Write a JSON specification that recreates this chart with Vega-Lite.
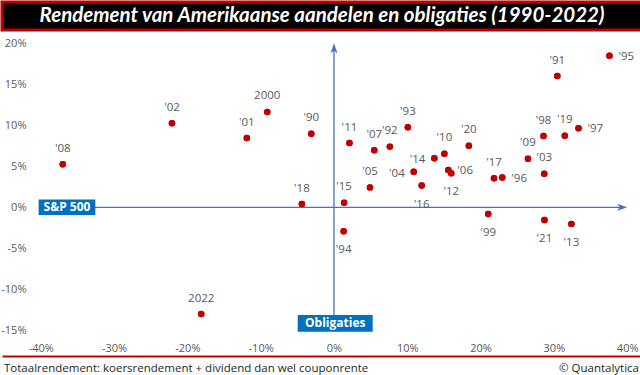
{
  "$schema": "https://vega.github.io/schema/vega-lite/v6.json",
  "padding": 0,
  "spacing": 0,
  "bounds": "flush",
  "background": "#ffffff",
  "config": {
    "view": {"stroke": null},
    "font": "Open Sans",
    "axis": {"labelFont": "Open Sans", "labelFontSize": 11, "labelColor": "#595959", "grid": false, "domain": false, "ticks": false}
  },
  "datasets": {
    "rendement": [
      {"jaar": "'90", "aandelen": -3.10, "obligaties": 8.96},
      {"jaar": "'91", "aandelen": 30.47, "obligaties": 16.00},
      {"jaar": "'92", "aandelen": 7.62, "obligaties": 7.40},
      {"jaar": "'93", "aandelen": 10.08, "obligaties": 9.75},
      {"jaar": "'94", "aandelen": 1.32, "obligaties": -2.92},
      {"jaar": "'95", "aandelen": 37.58, "obligaties": 18.47},
      {"jaar": "'96", "aandelen": 22.96, "obligaties": 3.63},
      {"jaar": "'97", "aandelen": 33.36, "obligaties": 9.65},
      {"jaar": "'98", "aandelen": 28.58, "obligaties": 8.69},
      {"jaar": "'99", "aandelen": 21.04, "obligaties": -0.82},
      {"jaar": "2000", "aandelen": -9.10, "obligaties": 11.63},
      {"jaar": "'01", "aandelen": -11.89, "obligaties": 8.44},
      {"jaar": "'02", "aandelen": -22.10, "obligaties": 10.26},
      {"jaar": "'03", "aandelen": 28.68, "obligaties": 4.10},
      {"jaar": "'04", "aandelen": 10.88, "obligaties": 4.34},
      {"jaar": "'05", "aandelen": 4.91, "obligaties": 2.43},
      {"jaar": "'06", "aandelen": 15.6, "obligaties": 4.55},
      {"jaar": "'07", "aandelen": 5.49, "obligaties": 6.97},
      {"jaar": "'08", "aandelen": -37.0, "obligaties": 5.24},
      {"jaar": "'09", "aandelen": 26.46, "obligaties": 5.93},
      {"jaar": "'10", "aandelen": 15.06, "obligaties": 6.54},
      {"jaar": "'11", "aandelen": 2.11, "obligaties": 7.84},
      {"jaar": "'12", "aandelen": 16.0, "obligaties": 4.15},
      {"jaar": "'13", "aandelen": 32.39, "obligaties": -2.02},
      {"jaar": "'14", "aandelen": 13.69, "obligaties": 5.97},
      {"jaar": "'15", "aandelen": 1.38, "obligaties": 0.55},
      {"jaar": "'16", "aandelen": 11.96, "obligaties": 2.65},
      {"jaar": "'17", "aandelen": 21.83, "obligaties": 3.54},
      {"jaar": "'18", "aandelen": -4.38, "obligaties": 0.4},
      {"jaar": "'19", "aandelen": 31.49, "obligaties": 8.72},
      {"jaar": "'20", "aandelen": 18.40, "obligaties": 7.51},
      {"jaar": "'21", "aandelen": 28.71, "obligaties": -1.54},
      {"jaar": "2022", "aandelen": -18.11, "obligaties": -13.01}
    ]
  },
  "vconcat": [
    {
      "width": 640,
      "height": 28,
      "view": {"fill": "#000000", "stroke": "#C00000", "strokeWidth": 3},
      "data": {"values": [{"titel": "Rendement van Amerikaanse aandelen en obligaties (1990-2022)"}]},
      "mark": {"type": "text", "font": "Lato", "fontStyle": "italic", "fontWeight": "bold", "fontSize": 20.5, "color": "#ffffff", "baseline": "middle", "align": "center"},
      "encoding": {"text": {"field": "titel"}}
    },
    {
      "width": 640,
      "height": 326,
      "layer": [
        {
          "data": {"name": "rendement"},
          "mark": {"type": "circle", "size": 42, "color": "#C00000", "opacity": 1},
          "encoding": {
            "x": {"field": "aandelen", "type": "quantitative",
              "scale": {"domain": [-45.29, 42.02], "nice": false, "zero": false},
              "axis": {"values": [-40, -30, -20, -10, 0, 10, 20, 30, 40], "labelExpr": "datum.value + '%'", "offset": -7.3, "labelPadding": 0, "labelBaseline": "middle", "labelFlush": false, "tickSize": 0, "title": null}},
            "y": {"field": "obligaties", "type": "quantitative",
              "scale": {"domain": [-18.13, 21.62], "nice": false, "zero": false},
              "axis": {"values": [-15, -10, -5, 0, 5, 10, 15, 20], "labelExpr": "datum.value + '%'", "offset": -28, "labelPadding": 4, "labelFlush": false, "tickSize": 0, "title": null}}
          }
        },
        {
          "data": {"values": [{"as": "S&P 500"}]},
          "mark": {"type": "rule", "color": "#4472C4", "strokeWidth": 1.3},
          "encoding": {"x": {"datum": -38}, "x2": {"datum": 39.2}, "y": {"datum": 0}}
        },
        {
          "data": {"values": [{"as": "Obligaties"}]},
          "mark": {"type": "rule", "color": "#4472C4", "strokeWidth": 1.3},
          "encoding": {"x": {"datum": 0}, "y": {"datum": -14}, "y2": {"datum": 19.3}}
        },
        {
          "data": {"values": [{"as": "S&P 500"}]},
          "mark": {"type": "point", "shape": "M0,0L-2,-0.7L-1.5,0L-2,0.7Z", "size": 100, "filled": true, "color": "#4472C4", "opacity": 1},
          "encoding": {"x": {"datum": 40}, "y": {"datum": 0}}
        },
        {
          "data": {"values": [{"as": "Obligaties"}]},
          "mark": {"type": "point", "shape": "M0,0L-0.7,2L0,1.5L0.7,2Z", "size": 100, "filled": true, "color": "#4472C4", "opacity": 1},
          "encoding": {"x": {"datum": 0}, "y": {"datum": 20}}
        },
        {
          "data": {"values": [{"as": "S&P 500"}]},
          "mark": {"type": "rect", "color": "#0070C0"},
          "encoding": {"x": {"datum": -40.29}, "x2": {"datum": -32.56}, "y": {"datum": 0.95}, "y2": {"datum": -0.95}}
        },
        {
          "data": {"values": [{"as": "S&P 500"}]},
          "mark": {"type": "text", "color": "#ffffff", "fontWeight": "bold", "fontSize": 12, "baseline": "middle", "align": "center"},
          "encoding": {"x": {"datum": -36.42}, "y": {"datum": 0}, "text": {"field": "as"}}
        },
        {
          "data": {"values": [{"as": "Obligaties"}]},
          "mark": {"type": "rect", "color": "#0070C0"},
          "encoding": {"x": {"datum": -4.95}, "x2": {"datum": 5.28}, "y": {"datum": -13.13}, "y2": {"datum": -15.16}}
        },
        {
          "data": {"values": [{"as": "Obligaties"}]},
          "mark": {"type": "text", "color": "#ffffff", "fontWeight": "bold", "fontSize": 12, "baseline": "middle", "align": "center"},
          "encoding": {"x": {"datum": 0.17}, "y": {"datum": -14.15}, "text": {"field": "as"}}
        },
        {
          "data": {"name": "rendement"},
          "mark": {"type": "circle", "size": 42, "color": "#C00000", "opacity": 1},
          "encoding": {"x": {"field": "aandelen", "type": "quantitative"}, "y": {"field": "obligaties", "type": "quantitative"}}
        },
        {
          "data": {"name": "rendement"},
          "transform": [{"filter": {"field": "jaar", "oneOf": ["'08", "'02", "'01", "2000", "'90", "'18", "2022", "'91", "'93", "'11", "'07", "'92", "'10", "'20", "'05", "'15", "'17", "'09", "'03", "'98", "'19"]}}],
          "mark": {"type": "text", "fontSize": 11.5, "color": "#595959", "baseline": "middle", "align": "center", "dy": -15.5},
          "encoding": {"x": {"field": "aandelen", "type": "quantitative"}, "y": {"field": "obligaties", "type": "quantitative"}, "text": {"field": "jaar"}}
        },
        {
          "data": {"name": "rendement"},
          "transform": [{"filter": {"field": "jaar", "oneOf": ["'99", "'21", "'13", "'94", "'16", "'12"]}}],
          "mark": {"type": "text", "fontSize": 11.5, "color": "#595959", "baseline": "middle", "align": "center", "dy": 19},
          "encoding": {"x": {"field": "aandelen", "type": "quantitative"}, "y": {"field": "obligaties", "type": "quantitative"}, "text": {"field": "jaar"}}
        },
        {
          "data": {"name": "rendement"},
          "transform": [{"filter": {"field": "jaar", "oneOf": ["'95", "'97", "'96", "'06"]}}],
          "mark": {"type": "text", "fontSize": 11.5, "color": "#595959", "baseline": "middle", "align": "left", "dx": 9, "dy": 1},
          "encoding": {"x": {"field": "aandelen", "type": "quantitative"}, "y": {"field": "obligaties", "type": "quantitative"}, "text": {"field": "jaar"}}
        },
        {
          "data": {"name": "rendement"},
          "transform": [{"filter": {"field": "jaar", "oneOf": ["'14", "'04"]}}],
          "mark": {"type": "text", "fontSize": 11.5, "color": "#595959", "baseline": "middle", "align": "right", "dx": -9, "dy": 2},
          "encoding": {"x": {"field": "aandelen", "type": "quantitative"}, "y": {"field": "obligaties", "type": "quantitative"}, "text": {"field": "jaar"}}
        }
      ]
    },
    {
      "width": 640,
      "height": 25,
      "data": {"values": [{"links": "Totaalrendement: koersrendement + dividend dan wel couponrente", "rechts": "© Quantalytica"}]},
      "layer": [
        {
          "mark": {"type": "text", "fontSize": 11.5, "color": "#262626", "baseline": "middle", "align": "left", "dx": 2},
          "encoding": {
            "x": {"datum": 0, "type": "quantitative", "scale": {"domain": [0, 1], "nice": false, "zero": false},
              "axis": {"orient": "top", "domain": true, "domainColor": "#C00000", "domainWidth": 2, "labels": false, "ticks": false, "grid": false, "title": null}},
            "text": {"field": "links"}
          }
        },
        {
          "mark": {"type": "text", "fontSize": 11.5, "color": "#262626", "baseline": "middle", "align": "right", "dx": -3},
          "encoding": {"x": {"datum": 1, "type": "quantitative"}, "text": {"field": "rechts"}}
        }
      ]
    }
  ]
}
